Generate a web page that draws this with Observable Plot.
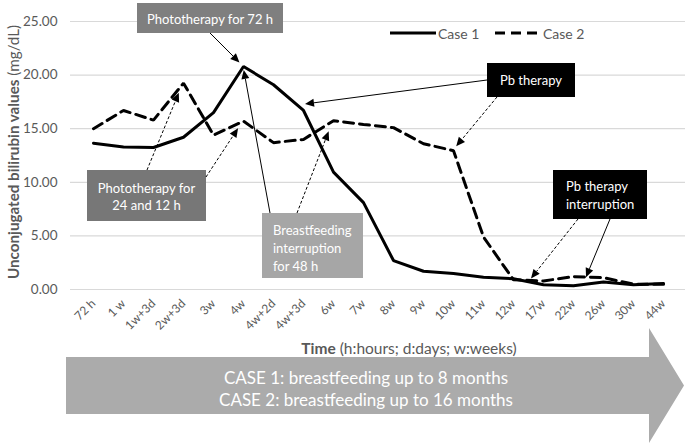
<!DOCTYPE html>
<html><head><meta charset="utf-8">
<script src="https://cdn.jsdelivr.net/npm/d3@7"></script>
<script src="https://cdn.jsdelivr.net/npm/@observablehq/plot@0.6"></script>
<style>html,body{margin:0;padding:0;background:#fff} svg{display:block}</style>
</head><body><div id="chart"></div>
<script>
const categories = ["72 h","1 w","1w+3d","2w+3d","3w","4w","4w+2d","4w+3d","6w","7w","8w","9w","10w","11w","12w","17w","22w","26w","30w","44w"];
const case1 = [13.65,13.3,13.25,14.2,16.5,20.8,19.1,16.7,10.95,8.1,2.7,1.7,1.5,1.15,1.0,0.45,0.35,0.7,0.45,0.55];
const case2 = [15.0,16.7,15.8,19.25,14.4,15.7,13.7,14.0,15.75,15.4,15.1,13.6,12.95,4.9,0.9,0.8,1.2,1.1,0.5,0.5];
const seriesNames = ["Case 1","Case 2"];
const yTicks = [0,5,10,15,20,25];
const yTitle = ["Unconjugated bilirubin values", " (mg/dL)"];
const xTitle = ["Time", " (h:hours; d:days; w:weeks)"];
const noteTexts = {
  photo72: ["Phototherapy for 72 h"],
  photo24: ["Phototherapy for", "24 and 12 h"],
  breast: ["Breastfeeding", "interruption", "for 48 h"],
  pb: ["Pb therapy"],
  pbStop: ["Pb therapy", "interruption"]
};
const bannerTexts = ["CASE 1: breastfeeding up to 8 months", "CASE 2: breastfeeding up to 16 months"];

const data = categories.flatMap((c, i) => [
  {cat: c, value: case1[i], series: seriesNames[0]},
  {cat: c, value: case2[i], series: seriesNames[1]}
]);

const FONT = "Lato, 'Open Sans', sans-serif";
const GRAY = "#595959";

const plot = Plot.plot({
  width: 685, height: 444,
  marginTop: 21, marginBottom: 155, marginLeft: 70, marginRight: 0,
  style: {fontFamily: FONT, background: "#fff", color: GRAY, overflow: "visible"},
  x: {type: "point", domain: categories, padding: 0.5, label: null},
  y: {domain: [0, 25], label: null},
  marks: [
    Plot.ruleY(yTicks, {stroke: "#d9d9d9", strokeWidth: 1.2}),
    Plot.axisY(yTicks, {tickFormat: d => d.toFixed(2), tickSize: 0, tickPadding: 13, fontSize: 13.5, fill: GRAY, label: null}),
    Plot.axisX({tickRotate: -45, tickSize: 0, tickPadding: 12, fontSize: 12, fill: GRAY, label: null}),
    Plot.line(data.filter(d => d.series === seriesNames[0]), {x: "cat", y: "value", stroke: "#000", strokeWidth: 3, strokeLinejoin: "miter"}),
    Plot.line(data.filter(d => d.series === seriesNames[1]), {x: "cat", y: "value", stroke: "#000", strokeWidth: 3, strokeDasharray: "10,6", strokeLinejoin: "miter"})
  ]
});

document.getElementById("chart").appendChild(plot);

const xs = plot.scale("x"), ys = plot.scale("y");
const svg = d3.select(plot);
const g = svg.append("g").attr("font-family", FONT).attr("text-anchor", "start");

function pt(seriesIdx, cat) {
  const i = categories.indexOf(cat);
  const v = seriesIdx === 0 ? case1[i] : case2[i];
  return [xs.apply(cat), ys.apply(v)];
}

function arrow(x1, y1, target, back, dashed, off) {
  let [x2, y2] = target;
  if (off) { x2 += off[0]; y2 += off[1]; }
  let dx = x2 - x1, dy = y2 - y1, L = Math.hypot(dx, dy);
  const ux = dx / L, uy = dy / L;
  x2 -= ux * back; y2 -= uy * back;
  const hl = 9, hw = 4;
  const bx = x2 - ux * hl, by = y2 - uy * hl;
  g.append("line").attr("x1", x1).attr("y1", y1).attr("x2", bx).attr("y2", by)
    .attr("stroke", "#000").attr("stroke-width", 1)
    .attr("stroke-dasharray", dashed ? "3,2" : null);
  g.append("path").attr("d", `M${x2},${y2}L${bx - uy * hw},${by + ux * hw}L${bx + uy * hw},${by - ux * hw}Z`)
    .attr("fill", "#000");
}

function box(x, y, w, h, fill, lines, tx, ty, lh, anchor) {
  g.append("rect").attr("x", x).attr("y", y).attr("width", w).attr("height", h).attr("fill", fill);
  lines.forEach((t, k) => {
    g.append("text").attr("x", tx).attr("y", ty + k * lh).attr("fill", "#fff")
      .attr("font-size", 13).attr("text-anchor", anchor).attr("dominant-baseline", "central").text(t);
  });
}

// annotation boxes
box(137, 3, 146, 30, "#7f7f7f", noteTexts.photo72, 210, 18.5, 17, "middle");
box(87, 170, 119, 51, "#777777", noteTexts.photo24, 146.5, 188, 17, "middle");
box(262, 213, 101, 65, "#a6a6a6", noteTexts.breast, 273, 230, 18, "start");
box(487, 63, 88, 34, "#000000", noteTexts.pb, 531, 80, 17, "middle");
box(553, 170, 94, 49, "#000000", noteTexts.pbStop, 566, 186, 18, "start");

// annotation arrows (targets taken from data points)
arrow(210, 33, pt(0, "4w"), 5, false);
arrow(147, 170, pt(1, "2w+3d"), 11, true);
arrow(206, 177, pt(1, "4w"), 9, true);
arrow(270, 213, pt(0, "4w"), 4, false);
arrow(297, 213, pt(1, "6w"), 12, true);
arrow(487, 80, pt(0, "4w+3d"), 0, false, [2, -6]);
arrow(497, 97, pt(1, "10w"), 5, true);
arrow(578, 219, pt(1, "17w"), 0, true, [-12, -2]);
arrow(610, 219, pt(1, "26w"), 0, false, [-17, 0]);

// legend
g.append("line").attr("x1", 390).attr("x2", 436).attr("y1", 33).attr("y2", 33).attr("stroke", "#000").attr("stroke-width", 3);
g.append("text").attr("x", 438).attr("y", 33).attr("text-anchor", "start").attr("dominant-baseline", "central").attr("font-size", 14).attr("fill", GRAY).text(seriesNames[0]);
g.append("line").attr("x1", 495).attr("x2", 537).attr("y1", 33).attr("y2", 33).attr("stroke", "#000").attr("stroke-width", 3).attr("stroke-dasharray", "10,6");
g.append("text").attr("x", 543).attr("y", 33).attr("text-anchor", "start").attr("dominant-baseline", "central").attr("font-size", 14).attr("fill", GRAY).text(seriesNames[1]);

// y-axis title
const yt = g.append("text").attr("transform", "translate(13,152) rotate(-90)")
  .attr("text-anchor", "middle").attr("dominant-baseline", "central").attr("font-size", 15.2).attr("fill", GRAY);
yt.append("tspan").attr("font-weight", "bold").text(yTitle[0]);
yt.append("tspan").text(yTitle[1]);

// x-axis title
const xt = g.append("text").attr("x", 409).attr("y", 348)
  .attr("text-anchor", "middle").attr("dominant-baseline", "central").attr("font-size", 15.5).attr("fill", GRAY);
xt.append("tspan").attr("font-weight", "bold").text(xTitle[0]);
xt.append("tspan").text(xTitle[1]);

// banner arrow
g.append("path").attr("d", "M66,357L649,357L649,328L684,385.5L649,443L649,414L66,414Z").attr("fill", "#ababab");
bannerTexts.forEach((t, k) => {
  g.append("text").attr("x", 366).attr("y", 377 + k * 22).attr("text-anchor", "middle")
    .attr("dominant-baseline", "central").attr("font-size", 17).attr("fill", "#fff").text(t);
});
</script>
</body></html>
